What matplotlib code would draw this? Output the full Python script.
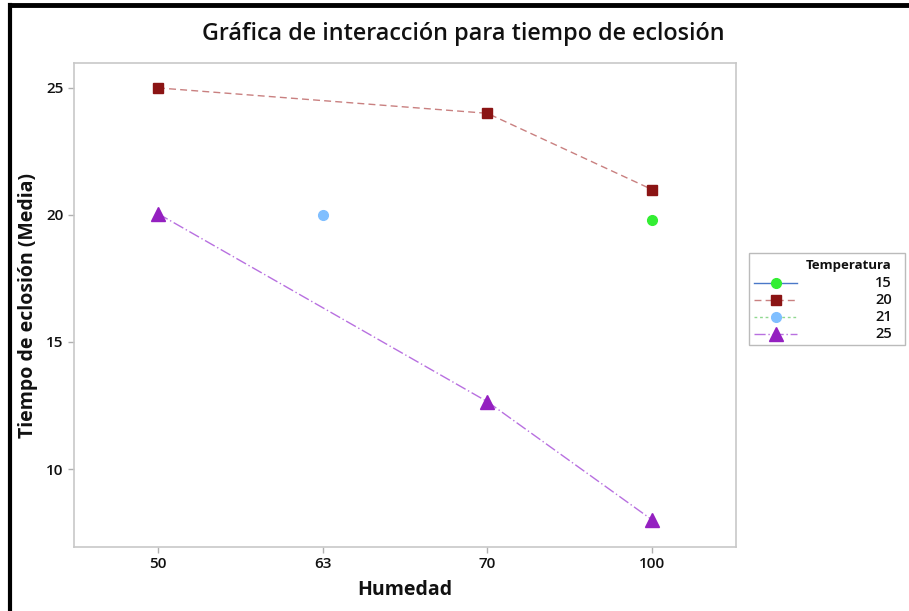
import matplotlib
matplotlib.use("Agg")
import matplotlib.pyplot as plt
from matplotlib.lines import Line2D
from matplotlib.patches import Rectangle

plt.rcParams['font.family'] = ['Open Sans', 'DejaVu Sans']

humedad = ["50", "63", "70", "100"]
temps = ["15", "20", "21", "25"]
# values per temperature: (humedad category, mean)
s15_x = ["100"]; s15_y = [19.8]
s20_x = ["50", "70", "100"]; s20_y = [25.0, 24.0, 21.0]
s21_x = ["63"]; s21_y = [20.0]
s25_x = ["50", "70", "100"]; s25_y = [20.05, 12.65, 8.0]

yticks = [10, 15, 20, 25]

W, H = 909, 611
fig = plt.figure(figsize=(W/100, H/100), dpi=100)
ax = fig.add_axes([74/W, 1-547/H, (736-74)/W, (547-63)/H])

pos = {h: i for i, h in enumerate(humedad)}
styles = [
    (s15_x, s15_y, dict(color='#4a78c8', ls='-', lw=1.0), dict(marker='o', color='#33ee33', ms=7)),
    (s20_x, s20_y, dict(color='#c98080', ls=(0, (5, 3)), lw=1.0), dict(marker='s', color='#8b1414', ms=7)),
    (s21_x, s21_y, dict(color='#90d890', ls=(0, (2, 2)), lw=1.0), dict(marker='o', color='#80bfff', ms=7)),
    (s25_x, s25_y, dict(color='#b870e0', ls=(0, (8, 2, 1, 2)), lw=1.0), dict(marker='^', color='#9420c0', ms=10)),
]
for (xs, ys, lst, mst), t in zip(styles, temps):
    xp = [pos[x] for x in xs]
    ax.plot(xp, ys, color=lst['color'], ls=lst['ls'], lw=lst['lw'], zorder=2)
    ax.plot(xp, ys, ls='none', marker=mst['marker'], color=mst['color'],
            ms=mst['ms'], mec=mst['color'], zorder=3)

ax.set_xlim(-0.51, 3.51)
ax.set_ylim(6.93, 25.98)
ax.set_xticks(range(len(humedad)))
ax.set_xticklabels(humedad)
ax.set_yticks(yticks)
for s in ax.spines.values():
    s.set_color('#c8c8c8')
    s.set_linewidth(1.2)
ax.tick_params(axis='both', colors='#b0b0b0', labelcolor='#111111', labelsize=11, length=4, width=1)
for lab in ax.get_xticklabels() + ax.get_yticklabels():
    lab.set_fontweight('semibold')

ax.set_xlabel('Humedad', fontsize=14, fontweight='bold', color='#111111', labelpad=6)
ax.set_ylabel('Tiempo de eclosión (Media)', fontsize=14, fontweight='bold', color='#111111', labelpad=6)

fig.text(463/W, 1-34/H, 'Gráfica de interacción para tiempo de eclosión',
         ha='center', va='center', fontsize=16.8, fontweight='semibold', color='#111111')

# manual legend (Minitab style: handles left, labels right-aligned under title)
lx0, lx1, ly0, ly1 = 749, 905, 253, 345
fig.add_artist(Rectangle((lx0/W, 1-ly1/H), (lx1-lx0)/W, (ly1-ly0)/H,
                         transform=fig.transFigure, fill=False, ec='#bbbbbb', lw=1.0))
fig.text(892/W, 1-265/H, 'Temperatura', ha='right', va='center', fontsize=9.5,
         fontweight='bold', color='#111111')
row_y = [283, 300, 317, 334]
for (xs, ys, lst, mst), t, ry in zip(styles, temps, row_y):
    fy = 1 - ry/H
    fig.add_artist(Line2D([754/W, 797/W], [fy, fy], transform=fig.transFigure,
                          color=lst['color'], ls=lst['ls'], lw=lst['lw']))
    fig.add_artist(Line2D([776/W], [fy], transform=fig.transFigure, ls='none',
                          marker=mst['marker'], color=mst['color'], mec=mst['color'],
                          ms=mst['ms']))
    fig.text(892/W, fy, t, ha='right', va='center', fontsize=10.5,
             fontweight='semibold', color='#111111')

# outer border (left & top only visible)
fig.add_artist(Line2D([10/W, 10/W], [0, 1-5/H], transform=fig.transFigure, color='black', lw=3))
fig.add_artist(Line2D([10/W, 1], [1-5/H, 1-5/H], transform=fig.transFigure, color='black', lw=3.5))

fig.savefig('out.png', dpi=100)
